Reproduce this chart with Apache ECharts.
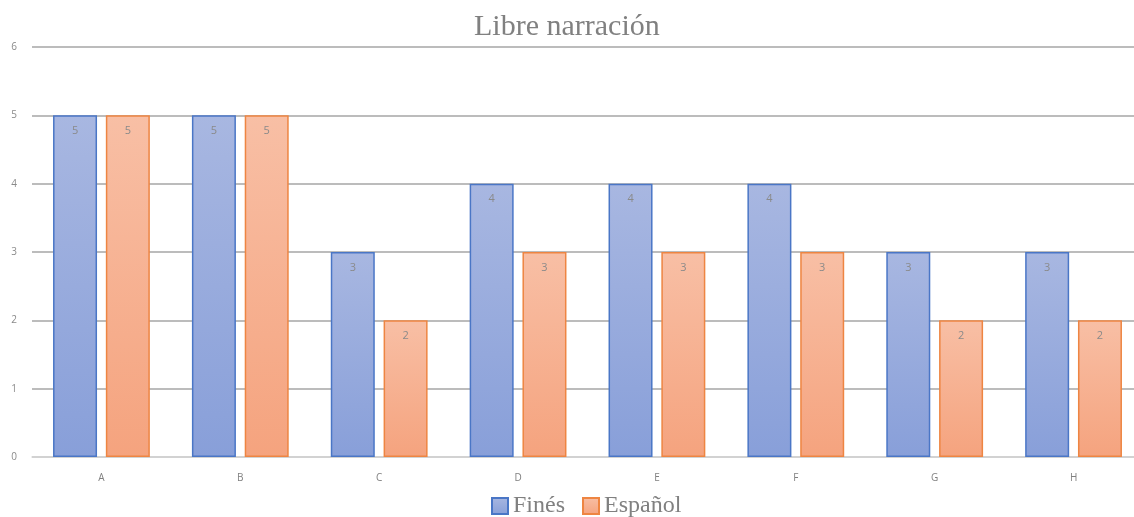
<!DOCTYPE html>
<html>
<head>
<meta charset="utf-8">
<title>Libre narración</title>
<script src="https://cdn.jsdelivr.net/npm/echarts@6/dist/echarts.min.js"></script>
<style>
  html, body { margin: 0; padding: 0; background: #ffffff; width: 1134px; height: 517px; overflow: hidden; }
  /* plot runs slightly past the right edge of the window */
  #chart { width: 1143px; height: 517px; }
</style>
</head>
<body>
<div id="chart"></div>
<script>
const categories = ['A', 'B', 'C', 'D', 'E', 'F', 'G', 'H'];
const fines = [5, 5, 3, 4, 4, 4, 3, 3];
const espanol = [5, 5, 2, 3, 3, 3, 2, 2];
const yTicks = [0, 1, 2, 3, 4, 5, 6];

const chart = echarts.init(document.getElementById('chart'));

function grad(top, bottom) {
  return new echarts.graphic.LinearGradient(0, 0, 0, 1, [
    { offset: 0, color: top },
    { offset: 1, color: bottom }
  ]);
}

const labelStyle = {
  show: true,
  position: 'insideTop',
  distance: 10,
  color: '#8a8a8a',
  fontSize: 11,
  fontFamily: 'Open Sans'
};

chart.setOption({
  animation: false,
  backgroundColor: '#ffffff',
  title: {
    text: 'Libre narración',
    left: 474,
    top: 12,
    padding: 0,
    textStyle: {
      fontFamily: 'Liberation Serif',
      fontWeight: 'normal',
      fontSize: 30,
      color: '#808080'
    }
  },
  legend: {
    bottom: -6,
    left: 486,
    itemWidth: 16,
    itemHeight: 16,
    itemGap: 17,
    icon: 'rect',
    textStyle: {
      fontFamily: 'Liberation Serif',
      fontSize: 24,
      color: '#808080'
    },
    data: ['Finés', 'Español']
  },
  grid: {
    left: 32,
    top: 47,
    right: 0,
    height: 410
  },
  xAxis: {
    type: 'category',
    data: categories,
    axisLine: { lineStyle: { color: '#d9d9d9', width: 1.5 } },
    axisTick: { show: false },
    axisLabel: {
      color: '#808080',
      fontSize: 10,
      fontFamily: 'Open Sans',
      margin: 16
    }
  },
  yAxis: {
    type: 'value',
    min: yTicks[0],
    max: yTicks[yTicks.length - 1],
    interval: 1,
    axisLine: { show: false },
    axisTick: { show: false },
    axisLabel: {
      color: '#8a8a8a',
      fontSize: 10,
      fontFamily: 'Open Sans',
      margin: 15
    },
    splitLine: { lineStyle: { color: '#a6a6a6', width: 1.5 } }
  },
  series: [
    {
      name: 'Finés',
      type: 'bar',
      data: fines,
      barWidth: 44,
      barGap: '20%',
      itemStyle: {
        color: grad('#a8b7e1', '#889fd9'),
        borderColor: '#4a76c6',
        borderWidth: 1.5
      },
      label: labelStyle
    },
    {
      name: 'Español',
      type: 'bar',
      data: espanol,
      barWidth: 44,
      itemStyle: {
        color: grad('#f8bfa5', '#f5a37e'),
        borderColor: '#ee8542',
        borderWidth: 1.5
      },
      label: labelStyle
    }
  ]
});
</script>
</body>
</html>
